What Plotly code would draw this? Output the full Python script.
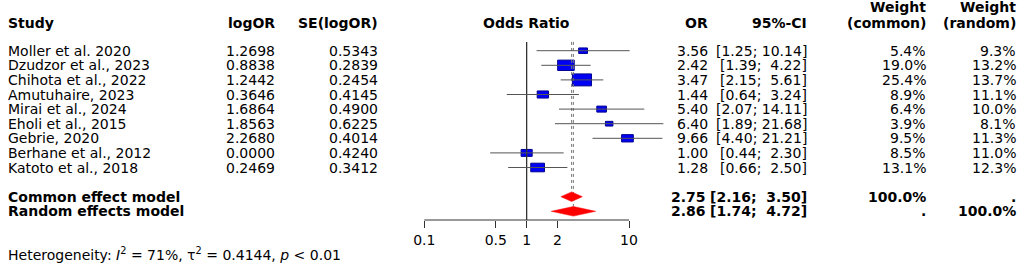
import math
import plotly.graph_objects as go

# ---------------- data ----------------
studies = ["Moller et al. 2020", "Dzudzor et al., 2023", "Chihota et al., 2022",
           "Amutuhaire, 2023", "Mirai et al., 2024", "Eholi et al., 2015",
           "Gebrie, 2020", "Berhane et al., 2012", "Katoto et al., 2018"]
log_or = [1.2698, 0.8838, 1.2442, 0.3646, 1.6864, 1.8563, 2.2680, 0.0000, 0.2469]
se_log_or = [0.5343, 0.2839, 0.2454, 0.4145, 0.4900, 0.6225, 0.4014, 0.4240, 0.3412]
odds_ratio = [3.56, 2.42, 3.47, 1.44, 5.40, 6.40, 9.66, 1.00, 1.28]
ci_lower = [1.25, 1.39, 2.15, 0.64, 2.07, 1.89, 4.40, 0.44, 0.66]
ci_upper = [10.14, 4.22, 5.61, 3.24, 14.11, 21.68, 21.21, 2.30, 2.50]
weight_common = [5.4, 19.0, 25.4, 8.9, 6.4, 3.9, 9.5, 8.5, 13.1]
weight_random = [9.3, 13.2, 13.7, 11.1, 10.0, 8.1, 11.3, 11.0, 12.3]

models = ["Common effect model", "Random effects model"]
model_or = [2.75, 2.86]
model_lower = [2.16, 1.74]
model_upper = [3.50, 4.72]
model_w_common = ["100.0%", "."]
model_w_random = [".", "100.0%"]

tick_values = [0.1, 0.5, 1, 2, 10]
tick_labels = ["0.1", "0.5", "1", "2", "10"]
heterogeneity = "Heterogeneity: <i>I</i><sup>2</sup> = 71%, τ<sup>2</sup> = 0.4144, <i>p</i> < 0.01"

# ---------------- layout constants ----------------
W, H = 1022, 267
FONT = "DejaVu Sans"
FS = 14
NB = "\u00a0"

study_rows = [2 + i for i in range(len(studies))]
model_rows = [12, 13]
header_row = 0.1
top_row = 1.40
ROW_PX = 14.6
# pixel p = 21.5 + 14.6*r
def row_of(p):
    return (p - 21.5) / ROW_PX

axis_px = 220
y_top = row_of(0)
y_bot = row_of(axis_px)
ydom0 = (H - axis_px) / H

px_dec = 102.35
x01_px = 424.3
xr = [-1 - x01_px / px_dec, -1 + (W - x01_px) / px_dec]

fig = go.Figure()

# boxes (size ~ sqrt of common weight), drawn first so lines sit on top
for r, est, w in zip(study_rows, odds_ratio, weight_common):
    bw = 3.8 * math.sqrt(w)
    bh = bw / 1.6
    f = 10 ** (bw / 2 / px_dec)
    hh = bh / 2 / ROW_PX
    fig.add_trace(go.Scatter(x=[est / f, est * f, est * f, est / f, est / f],
                             y=[r - hh, r - hh, r + hh, r + hh, r - hh],
                             mode="lines", fill="toself", fillcolor="#0000F5",
                             line=dict(color="#000090", width=1),
                             hoverinfo="skip", showlegend=False))

# reference line at OR = 1
fig.add_trace(go.Scatter(x=[1, 1], y=[top_row, y_bot], mode="lines",
                         line=dict(color="#333333", width=1.3),
                         hoverinfo="skip", showlegend=False))
# dotted pooled estimate lines
fig.add_trace(go.Scatter(x=[model_or[0], model_or[0]], y=[top_row, model_rows[0] - 0.33],
                         mode="lines", line=dict(color="#777777", width=1, dash="dot"),
                         hoverinfo="skip", showlegend=False))
fig.add_trace(go.Scatter(x=[model_or[1], model_or[1]], y=[top_row, model_rows[1] - 0.33],
                         mode="lines", line=dict(color="#777777", width=1, dash="dot"),
                         hoverinfo="skip", showlegend=False))

# CI lines
xs, ys = [], []
for r, lo, hi in zip(study_rows, ci_lower, ci_upper):
    xs += [lo, hi, None]
    ys += [r, r, None]
fig.add_trace(go.Scatter(x=xs, y=ys, mode="lines", line=dict(color="#555555", width=1),
                         hoverinfo="skip", showlegend=False))

# diamonds
for r, est, lo, hi in zip(model_rows, model_or, model_lower, model_upper):
    fig.add_trace(go.Scatter(x=[lo, est, hi, est, lo], y=[r, r - 0.33, r, r + 0.33, r],
                             mode="lines", fill="toself", fillcolor="#FF0000",
                             line=dict(color="#FF0000", width=0.5),
                             hoverinfo="skip", showlegend=False))

shapes = [dict(type="line", xref="x", yref="paper", x0=tick_values[0], x1=tick_values[-1],
               y0=ydom0, y1=ydom0, line=dict(color="#333333", width=1))]

ann = []
def txt(xpx, row, text, anchor="right", bold=False):
    ann.append(dict(x=xpx / W, xref="paper", y=row, yref="y",
                    text=(f"<b>{text}</b>" if bold else text),
                    showarrow=False, xanchor=anchor, yanchor="middle", borderpad=0,
                    font=dict(family=FONT, size=FS, color="black")))

# headers
txt(7, header_row, "Study", "left", True)
txt(276, header_row, "logOR", "right", True)
txt(379, header_row, "SE(logOR)", "right", True)
txt(526.7, header_row, "Odds Ratio", "center", True)
txt(709, header_row, "OR", "right", True)
txt(808, header_row, "95%-CI", "right", True)
txt(927, row_of(6.5), "Weight", "right", True)
txt(927, header_row, "(common)", "right", True)
txt(1017, row_of(6.5), "Weight", "right", True)
txt(1017, header_row, "(random)", "right", True)

def ci_str(lo, hi):
    return f"[{lo:.2f}; {hi:>5.2f}]".replace(" ", NB)

for i, r in enumerate(study_rows):
    txt(7, r, studies[i], "left")
    txt(276, r, f"{log_or[i]:.4f}")
    txt(379, r, f"{se_log_or[i]:.4f}")
    txt(709, r, f"{odds_ratio[i]:.2f}")
    txt(808, r, ci_str(ci_lower[i], ci_upper[i]))
    txt(927, r, f"{weight_common[i]:.1f}%")
    txt(1017, r, f"{weight_random[i]:.1f}%")

for i, r in enumerate(model_rows):
    txt(7, r, models[i], "left", True)
    txt(707, r, f"{model_or[i]:.2f}", bold=True)
    txt(808, r, ci_str(model_lower[i], model_upper[i]), bold=True)
    txt(927, r, model_w_common[i], bold=True)
    txt(1017, r, model_w_random[i], bold=True)

ann.append(dict(x=7 / W, xref="paper", y=(H - 253.5) / H, yref="paper", text=heterogeneity,
                showarrow=False, xanchor="left", yanchor="middle", borderpad=0,
                font=dict(family=FONT, size=FS, color="black")))

fig.update_layout(
    width=W, height=H, margin=dict(l=0, r=0, t=0, b=0),
    paper_bgcolor="white", plot_bgcolor="white",
    showlegend=False, shapes=shapes, annotations=ann,
    xaxis=dict(type="log", range=xr, domain=[0, 1], showgrid=False, zeroline=False,
               showline=False, tickmode="array", tickvals=tick_values, ticktext=tick_labels,
               ticks="outside", ticklen=7, tickwidth=1, tickcolor="#333333",
               tickfont=dict(family=FONT, size=FS, color="black"), fixedrange=True),
    yaxis=dict(range=[y_bot, y_top], domain=[ydom0, 1], visible=False, fixedrange=True),
)

fig.write_html("out.html", config={"displayModeBar": False},
               post_script="document.body.style.margin='0';document.body.style.overflow='hidden';")
